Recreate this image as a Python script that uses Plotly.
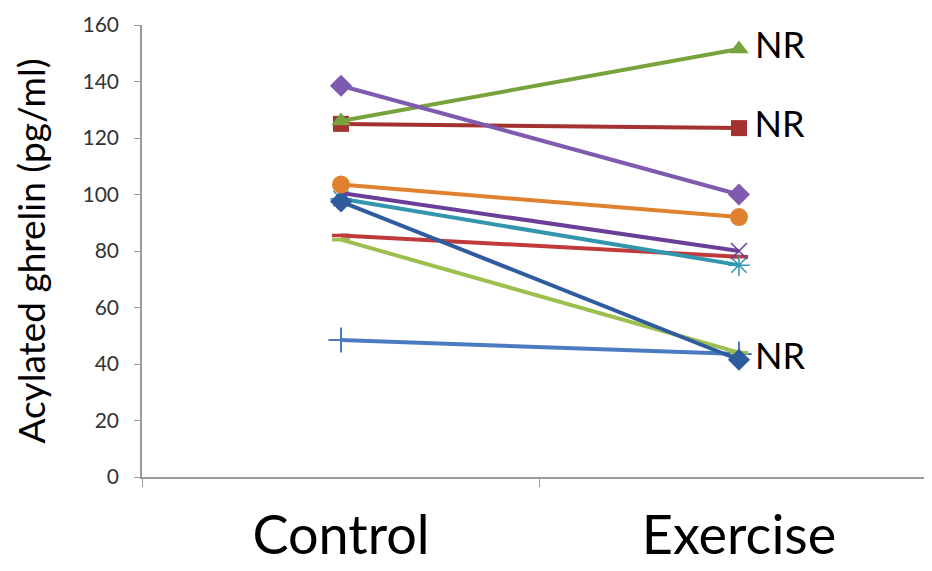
import plotly.graph_objects as go

categories = ["Control", "Exercise"]

purple_diamond = [138.5, 100]
green_triangle = [126, 151.5]
red_square = [125, 123.5]
orange_circle = [103.5, 92]
purple_x = [100.5, 80]
teal_star = [98.5, 75]
blue_diamond = [97.5, 41.5]
red_dash = [85.5, 78]
lime_dash = [84, 44]
blue_plus = [48.5, 43.5]

y_ticks = [0, 20, 40, 60, 80, 100, 120, 140, 160]
nr_label = "NR"

series = [
    # values, color, symbol, size, marker line width, label
    (blue_plus, "#4A7BC0", "cross-thin-open", 18, 2, False),
    (lime_dash, "#9DBF4F", "line-ew-open", 13, 3.5, False),
    (red_dash, "#C0393B", "line-ew-open", 13, 3.5, False),
    (teal_star, "#3296AE", "asterisk-open", 18, 1.5, False),
    (purple_x, "#6B3F99", "x-thin-open", 16, 1.5, False),
    (blue_diamond, "#2F5C9E", "diamond", 17, 0, True),
    (orange_circle, "#E0812F", "circle", 18, 0, False),
    (red_square, "#A33230", "square", 16, 0, True),
    (green_triangle, "#78A33C", "triangle-up", 17, 0, True),
    (purple_diamond, "#7E5AB0", "diamond", 17, 0, False),
]

fig = go.Figure()
for vals, color, sym, size, lw, nr in series:
    fig.add_trace(go.Scatter(
        x=categories, y=vals,
        mode="lines+markers+text" if nr else "lines+markers",
        line=dict(color=color, width=4),
        marker=dict(symbol=sym, size=size, color=color,
                    line=dict(color=color, width=lw)),
        text=["", "\u2009" + nr_label] if nr else None,
        textposition="middle right",
        textfont=dict(family="Lato, sans-serif", size=36, color="#000000"),
        showlegend=False,
        cliponaxis=False,
    ))

fig.update_layout(
    width=924, height=563,
    margin=dict(l=134, r=0, t=17, b=94),
    paper_bgcolor="white", plot_bgcolor="white",
    font=dict(family="Lato, sans-serif", color="#404040"),
)
fig.update_xaxes(
    type="category", range=[-0.5, 1.485], automargin=False,
    showline=True, linecolor="#9a9a9a", linewidth=1.5,
    ticks="outside", tickson="boundaries", ticklen=8, tickcolor="#9a9a9a",
    showgrid=False, zeroline=False,
    tickfont=dict(size=54, color="#000000"),
    ticklabelstandoff=10,
)
fig.update_yaxes(
    range=[0, 160], tickvals=y_ticks, automargin=False,
    showline=True, linecolor="#9a9a9a", linewidth=1.5,
    ticks="outside", ticklen=6, tickcolor="#9a9a9a",
    showgrid=False, zeroline=False,
    tickfont=dict(size=21, color="#333333"),
    ticklabelstandoff=11,
    title=dict(text="Acylated ghrelin (pg/ml)", standoff=36,
               font=dict(size=37, color="#000000")),
)

fig.write_html("out.html")
